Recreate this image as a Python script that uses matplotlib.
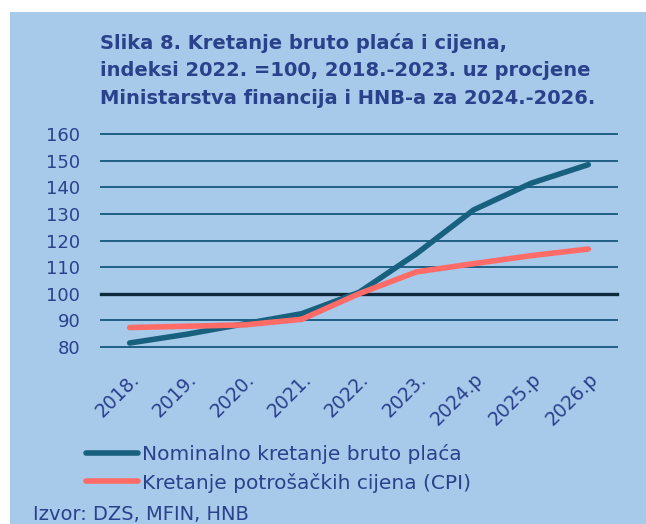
import matplotlib
matplotlib.use("Agg")
import matplotlib.pyplot as plt
from matplotlib.patches import Rectangle
from matplotlib.lines import Line2D

years = ["2018.", "2019.", "2020.", "2021.", "2022.", "2023.", "2024.p", "2025.p", "2026.p"]
wages = [81.5, 84.8, 88.7, 92.5, 100.5, 115.0, 131.5, 141.5, 148.5]
cpi = [87.3, 87.8, 88.3, 90.4, 100.0, 108.2, 111.3, 114.3, 116.8]
yticks = [80, 90, 100, 110, 120, 130, 140, 150, 160]

title = ("Slika 8. Kretanje bruto plaća i cijena,\n"
         "indeksi 2022. =100, 2018.-2023. uz procjene\n"
         "Ministarstva financija i HNB-a za 2024.-2026.")
legend_labels = ["Nominalno kretanje bruto plaća", "Kretanje potrošačkih cijena (CPI)"]
source = "Izvor: DZS, MFIN, HNB"

BG = "#A7C9EA"
TXT = "#2A418C"
BLUE = "#17617F"
RED = "#FF6B66"
GRID = "#1F6085"

plt.rcParams['font.family'] = ['DejaVu Sans']

W, H = 646, 524
fig = plt.figure(figsize=(W / 100, H / 100), dpi=100)
fig.patch.set_facecolor("white")
fig.patches.append(Rectangle((10 / W, 0), 1, 1 - 12 / H, transform=fig.transFigure,
                             facecolor=BG, edgecolor="none", zorder=-10))

fig.text(100 / W, 1 - 33 / H, title, ha="left", va="top", fontsize=14,
         fontweight="bold", color=TXT, linespacing=1.55)

x_left, x_right = 101 / W, 617 / W
y_bot, y_top = 1 - 347 / H, 1 - 134 / H
ax = fig.add_axes([x_left, y_bot, x_right - x_left, y_top - y_bot])
ax.set_facecolor("none")
ax.set_xlim(-0.5, 8.5)
ax.set_ylim(80, 160)
for s in ax.spines.values():
    s.set_visible(False)

for v in yticks:
    if v == 100:
        ax.axhline(v, color="#0E2A3C", lw=2.4, zorder=1, clip_on=False)
    else:
        ax.axhline(v, color=GRID, lw=1.4, zorder=1, clip_on=False)

x = list(range(len(years)))
ax.plot(x, wages, color=BLUE, lw=4, solid_capstyle="round", zorder=3, clip_on=False)
ax.plot(x, cpi, color=RED, lw=4, solid_capstyle="round", zorder=4, clip_on=False)

ax.set_yticks(yticks)
ax.set_yticklabels([str(v) for v in yticks])
ax.set_xticks(x)
ax.set_xticklabels(years, rotation=45, ha="right", va="top", rotation_mode="anchor")
ax.tick_params(axis="both", length=0, labelsize=13, labelcolor=TXT)
ax.tick_params(axis="y", pad=15)
ax.tick_params(axis="x", labelsize=13.5, pad=16)

handles = [Line2D([0], [0], color=BLUE, lw=4, solid_capstyle="round"),
           Line2D([0], [0], color=RED, lw=4, solid_capstyle="round")]
fig.legend(handles, legend_labels, loc="upper left", bbox_to_anchor=(76 / W, 1 - 434 / H),
           frameon=False, fontsize=14.5, labelcolor=TXT, handlelength=2.6,
           handletextpad=0.2, labelspacing=0.42, borderpad=0)

fig.text(33 / W, 1 - 520 / H, source, ha="left", va="baseline", fontsize=14, color=TXT)

fig.savefig("out.png", dpi=100, facecolor=fig.get_facecolor())
